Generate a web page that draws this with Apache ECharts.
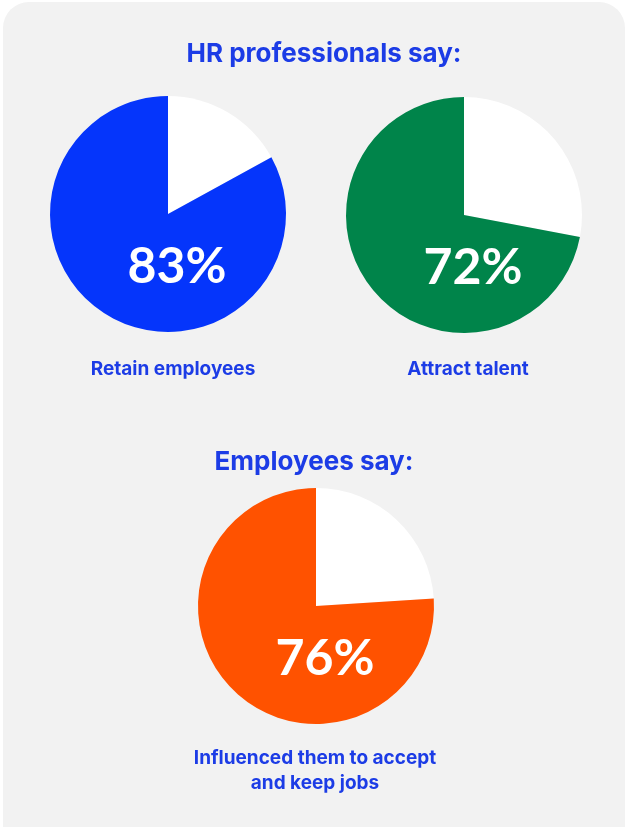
<!DOCTYPE html>
<html>
<head>
<meta charset="utf-8">
<script src="https://cdn.jsdelivr.net/npm/echarts@6/dist/echarts.min.js"></script>
<style>
html,body{margin:0;padding:0;background:#ffffff;width:626px;height:827px;overflow:hidden;}
#panel{position:absolute;left:3px;top:2px;width:622px;height:850px;background:#f2f2f2;border-radius:26px;}
#chart{position:absolute;left:0;top:0;width:626px;height:827px;}
</style>
</head>
<body>
<div id="panel"></div>
<div id="chart"></div>
<script>
var groupTitles = ['HR professionals say:', 'Employees say:'];
var pieNames = ['Retain employees', 'Attract talent', 'Influenced them to accept\nand keep jobs'];
var pieValues = [83, 72, 76];
var pieColors = ['#0535fb', '#00844a', '#ff5200'];

var FONT = 'Inter';
var NUM_FONT = 'Lato';
var textBlue = '#1c3ce6';
var centers = [[168, 214], [464, 215], [316, 606]];
var nameX = [168, 463, 310];
var nameY = [352, 352, 741];

var chart = echarts.init(document.getElementById('chart'), null, {renderer: 'canvas'});

var titles = [
  {text: groupTitles[0], left: 319, top: 36, textAlign: 'center', textStyle: {fontFamily: FONT, fontWeight: 'bold', fontSize: 26, color: textBlue}},
  {text: groupTitles[1], left: 309, top: 444, textAlign: 'center', textStyle: {fontFamily: FONT, fontWeight: 'bold', fontSize: 26, color: textBlue}}
];
pieNames.forEach(function (n, i) {
  titles.push({
    text: n, left: nameX[i], top: nameY[i], textAlign: 'center',
    textStyle: {fontFamily: FONT, fontWeight: 'bold', fontSize: 19, lineHeight: 25, color: textBlue}
  });
});

var series = pieValues.map(function (v, i) {
  return {
    type: 'pie',
    center: centers[i],
    radius: [0, 118],
    startAngle: 90,
    clockwise: true,
    silent: true,
    animation: false,
    labelLine: {show: false},
    data: [
      {name: 'rest', value: 100 - v, itemStyle: {color: '#ffffff'}, label: {show: false}},
      {name: pieNames[i], value: v, itemStyle: {color: pieColors[i]},
        label: {show: true, position: 'center', offset: [9, 53], formatter: v + '%',
          fontFamily: NUM_FONT, fontWeight: 'bold', fontSize: 50, color: '#ffffff'}}
    ]
  };
});

chart.setOption({
  backgroundColor: 'transparent',
  title: titles,
  series: series
});
</script>
</body>
</html>
